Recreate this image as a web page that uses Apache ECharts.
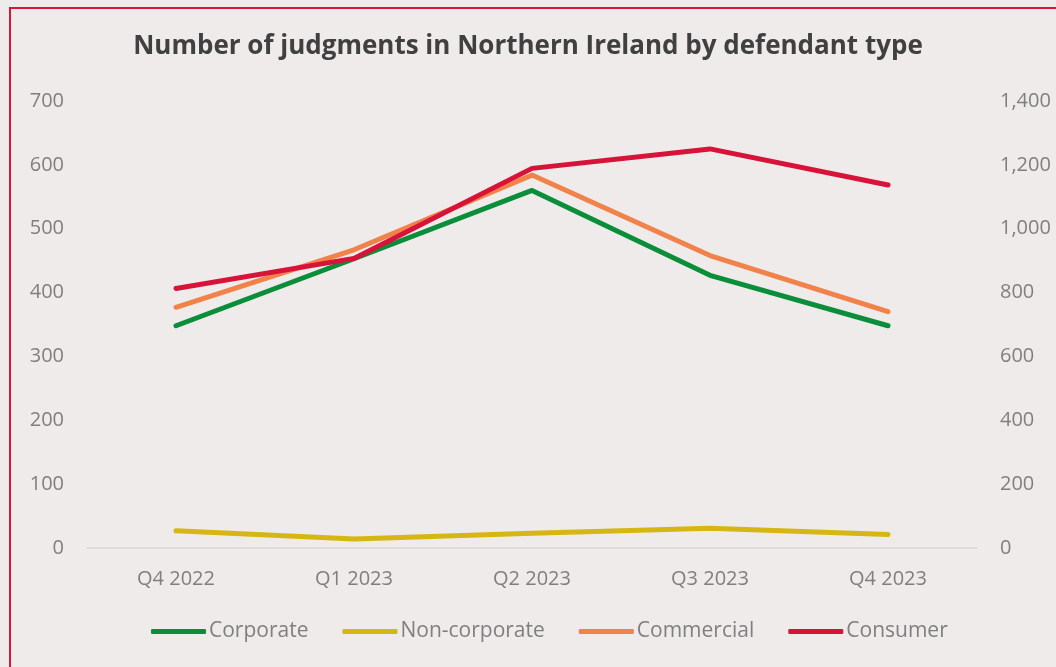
<!DOCTYPE html>
<html style="height: 100%">
<head>
	<meta charset="utf-8">
</head>
<body style="height: 100%; margin: 0; background: #eeebea">
	<div id="container" style="width: 1056px; height: 667px"></div>
	<script type="text/javascript" src="https://cdn.jsdelivr.net/npm/echarts@6/dist/echarts.min.js"></script>
	<script type="text/javascript">
		var quarters = ['Q4 2022', 'Q1 2023', 'Q2 2023', 'Q3 2023', 'Q4 2023'];
		var corporate = [348, 453, 560, 427, 348];
		var nonCorporate = [27, 14, 23, 31, 21];
		var commercial = [377, 467, 584, 458, 370];
		// consumer
		var consumer = [813, 907, 1189, 1250, 1137];

		var fontName = "'Liberation Sans Narrow', 'Open Sans', sans-serif";
		var grey = '#7f7f7f';

		var dom = document.getElementById('container');
		var myChart = echarts.init(dom);

		function line(name, data, color, axis) {
			return {
				name: name,
				type: 'line',
				data: data,
				yAxisIndex: axis,
				symbol: 'none',
				color: color,
				lineStyle: { width: 5, color: color, cap: 'round', join: 'round' }
			};
		}

		var option = {
			backgroundColor: '#eeebea',
			textStyle: { fontFamily: fontName },
			animation: false,
			title: {
				text: 'Number of judgments in Northern Ireland by defendant type',
				left: 'center',
				top: 29,
				textStyle: { fontSize: 26, fontWeight: 'bold', color: '#404040', fontFamily: fontName }
			},
			graphic: [{
				type: 'rect',
				shape: { x: 10, y: 8, width: 1100, height: 700 },
				style: { fill: 'none', stroke: '#d6163a', lineWidth: 2 }
			}],
			legend: {
				bottom: 20,
				left: 146,
				itemWidth: 55,
				itemHeight: 5,
				itemGap: 34,
				icon: 'roundRect',
				textStyle: { fontSize: 21, color: grey, padding: [0, 0, 0, -2] },
				data: ['Corporate', 'Non-corporate', 'Commercial', 'Consumer']
			},
			grid: { left: 87, right: 79, top: 101, bottom: 119 },
			xAxis: {
				type: 'category',
				data: quarters,
				axisLine: { lineStyle: { color: '#d9d9d9', width: 1.5 } },
				axisTick: { show: false },
				axisLabel: { fontSize: 20, color: grey, margin: 21 }
			},
			yAxis: [{
				type: 'value',
				min: 0, max: 700, interval: 100,
				splitLine: { show: false },
				axisLabel: { fontSize: 20, color: grey, margin: 23 }
			}, {
				type: 'value',
				min: 0, max: 1400, interval: 200,
				splitLine: { show: false },
				axisLabel: {
					fontSize: 20, color: grey, margin: 23,
					formatter: function(v) { return v.toLocaleString('en-GB'); }
				}
			}],
			series: [
				line('Corporate', corporate, '#0b8e3a', 0),
				line('Non-corporate', nonCorporate, '#d6b612', 0),
				line('Commercial', commercial, '#f0824a', 0),
				line('Consumer', consumer, '#d71339', 1)
			]
		};

		myChart.setOption(option);
	</script>
</body>
</html>
